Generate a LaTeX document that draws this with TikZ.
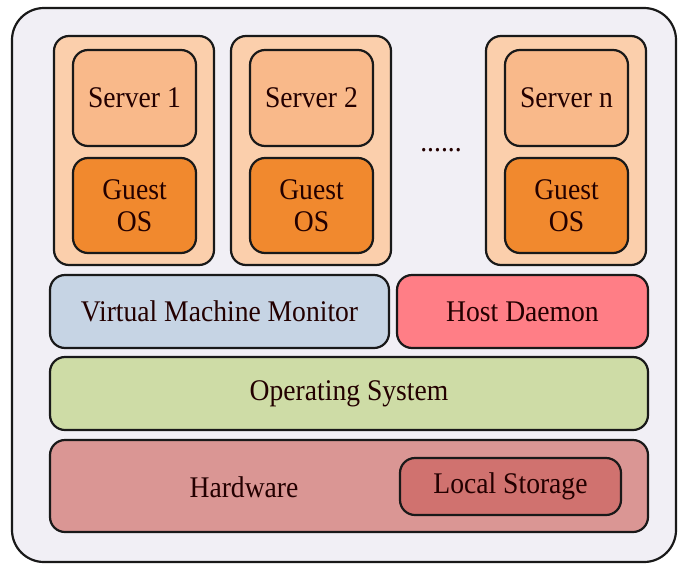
\documentclass[tikz,border=0pt]{standalone}
\usepackage{fontspec}
\setmainfont{Liberation Serif}[FakeStretch=0.92]
\begin{document}
\begin{tikzpicture}[x=1pt,y=-1pt,
  box/.style={draw=black!90, line width=2.2pt, rounded corners=15pt},
  lbl/.style={font=\fontsize{30}{32}\selectfont, text=black!75!red!55!black},
]
\definecolor{outerfill}{HTML}{F1EFF5}
\definecolor{vmfill}{HTML}{FBCFAC}
\definecolor{srvfill}{HTML}{F9B98A}
\definecolor{osfill}{HTML}{F1892E}
\definecolor{vmmfill}{HTML}{C6D4E4}
\definecolor{hdfill}{HTML}{FF7E86}
\definecolor{hostos}{HTML}{CEDCA6}
\definecolor{hwfill}{HTML}{DA9694}
\definecolor{lsfill}{HTML}{D0726F}
\useasboundingbox (0,0) rectangle (682,565);
% outer frame
\draw[box, rounded corners=32pt, fill=outerfill] (12,8) rectangle (676,562);
% virtual machines
\foreach \n/\xa/\t in {1/54/Server 1, 2/231/Server 2, 3/486/Server n}{
  \draw[box, fill=vmfill] (\xa,36) rectangle ++(160,229);
  \node[box, fill=srvfill, minimum width=123pt, minimum height=96pt, lbl] (srv\n) at (\xa+80.5,98) {\t};
  \node[box, fill=osfill, minimum width=123pt, minimum height=95pt, lbl, align=center] (gos\n) at (\xa+80.5,205.5) {Guest\\OS};
}
\node[lbl] (dots) at (441,150) {......};
% hypervisor level
\node[box, fill=vmmfill, minimum width=339pt, minimum height=73pt, lbl] (vmm) at (219.5,311.5) {Virtual Machine Monitor};
\node[box, fill=hdfill, minimum width=251pt, minimum height=73pt, lbl] (hd) at (522.5,311.5) {Host Daemon};
% host operating system
\node[box, fill=hostos, minimum width=598pt, minimum height=73pt, lbl] (os) at (349,393.5) {Operating System};
% hardware
\draw[box, fill=hwfill] (50,440) rectangle (648,532);
\node[lbl] (hw) at (244,487) {Hardware};
\node[box, fill=lsfill, minimum width=221pt, minimum height=57pt, lbl] (ls) at (510.5,486.5) {Local Storage};
\end{tikzpicture}
\end{document}
